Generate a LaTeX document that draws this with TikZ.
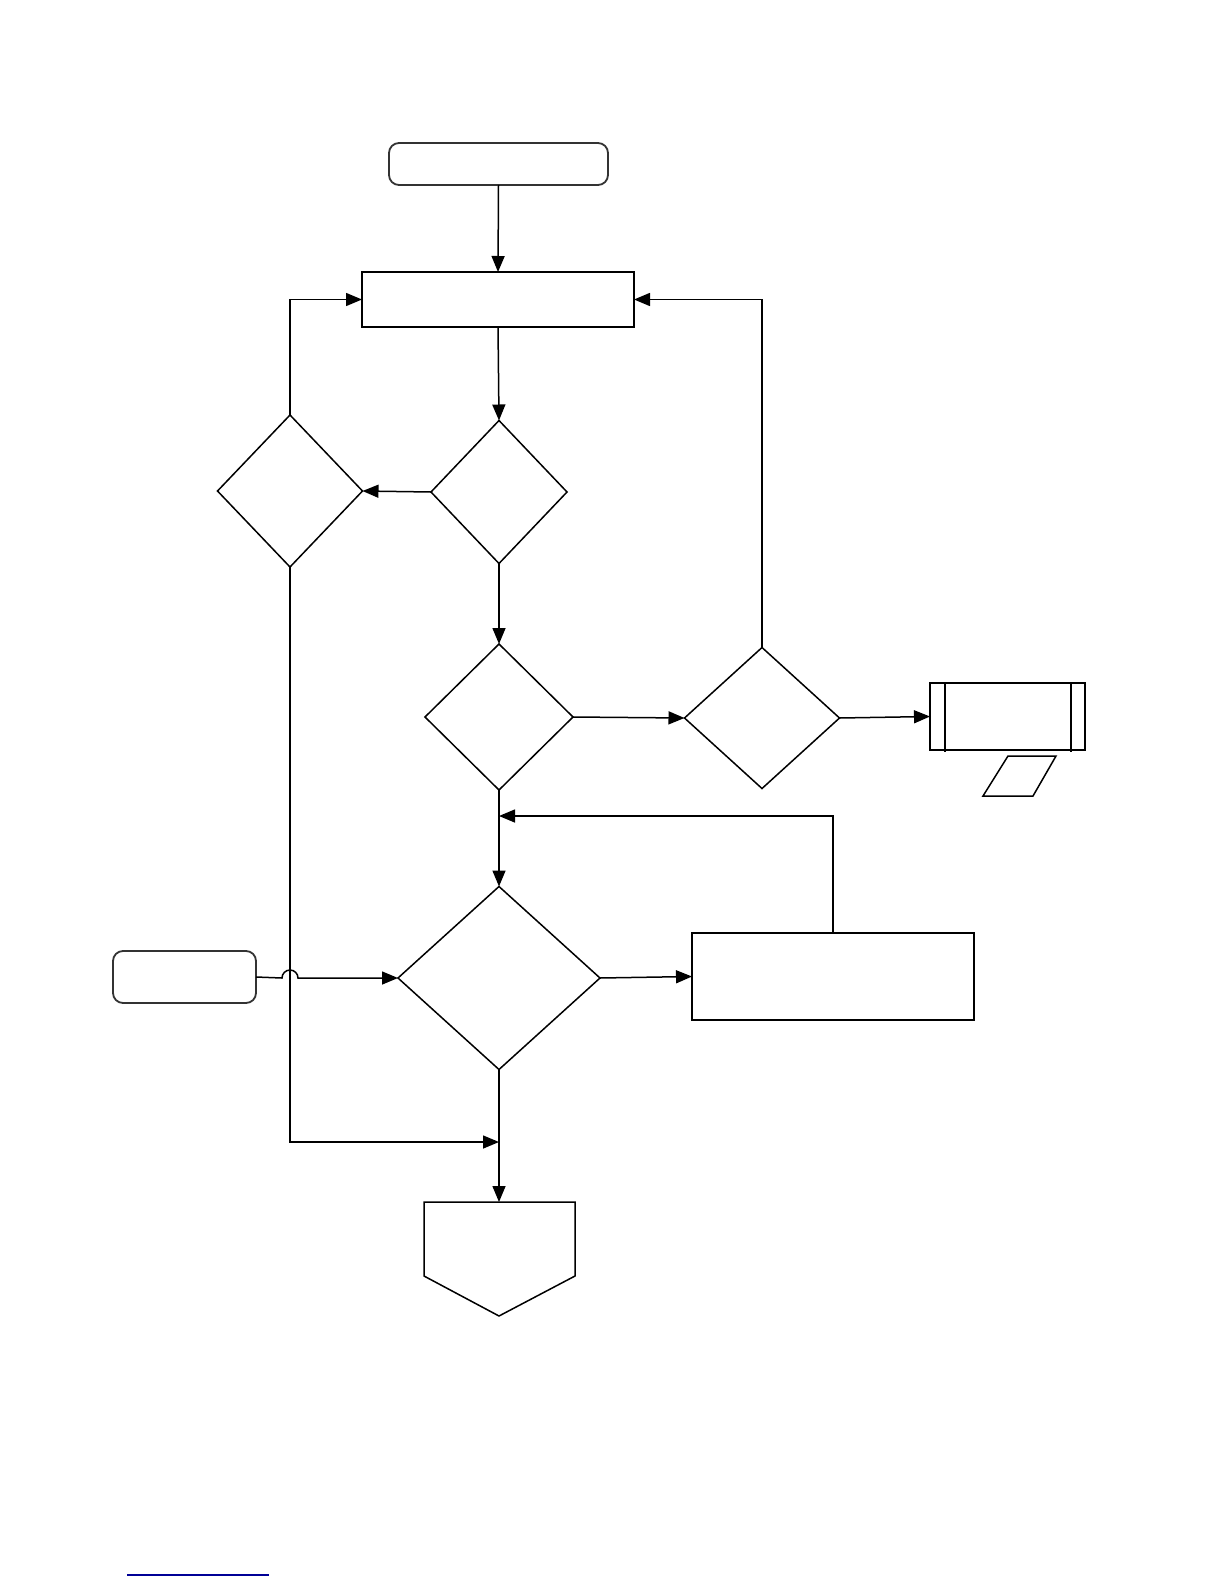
\documentclass[tikz,border=0pt]{standalone}
\usetikzlibrary{shapes.geometric,arrows.meta}
\begin{document}
\begin{tikzpicture}[x=0.5pt,y=-0.5pt,
  line width=0.75pt,
  dec/.style={draw,shape=diamond,inner sep=0pt,outer sep=0pt},
  box/.style={draw,rectangle,inner sep=0pt,outer sep=0pt},
  term/.style={draw=black!80,rectangle,rounded corners=5pt,inner sep=0pt,outer sep=0pt,line width=0.9pt},
  arr/.style={-{Triangle[length=8pt,width=6.5pt]}},
  ln/.style={}]
\useasboundingbox (0,0) rectangle (1224,1584);
% nodes
\node[term,minimum width=109.5pt,minimum height=21pt] (start) at (498.5,164) {};
\node[box,minimum width=136pt,minimum height=27.5pt] (proc) at (498,299.5) {};
\node[dec,minimum width=68pt,minimum height=71.5pt] (d1) at (499,492) {};
\node[dec,minimum width=72.5pt,minimum height=76pt] (d2) at (290,491) {};
\node[dec,minimum width=74pt,minimum height=73pt] (d3) at (499,717) {};
\node[dec,minimum width=77.5pt,minimum height=70.5pt] (d4) at (762,718) {};
\node[dec,minimum width=101pt,minimum height=91.5pt] (d5) at (499,978) {};
\node[box,minimum width=77.5pt,minimum height=33.5pt,line width=0.9pt] (pre) at (1007.5,716.5) {};
\draw (945,683) -- (945,752);
\draw (1071,683) -- (1071,752);
\node[box,minimum width=141pt,minimum height=43.5pt] (side) at (833,976.5) {};
\draw[line width=1.2pt] (692,933) -- (692,1020);
\node[term,minimum width=71.5pt,minimum height=26pt] (lterm) at (184.5,977) {};
% parallelogram
\draw (1008,756) -- (1056,756) -- (1033,796) -- (983,796) -- cycle;
% off-page connector
\coordinate (endtop) at (499,1202);
\draw (424,1202) -- (575,1202) -- (575,1276) -- (499,1316) -- (424,1276) -- cycle;
\coordinate (m1) at (499,816);
\coordinate (m2) at (499,1142);
% connectors
\draw[arr] (start.south) -- (proc.north);
\draw[arr] (proc.south) -- (d1.north);
\draw[arr] (d1.west) -- (d2.east);
\draw[arr] (d2.north) |- (proc.west);
\draw[arr] (d1.south) -- (d3.north);
\draw[arr] (d3.east) -- (d4.west);
\draw[arr] (d4.north) |- (proc.east);
\draw[arr] (d4.east) -- (pre.west);
\draw[arr] (d3.south) -- (d5.north);
\draw[arr] (side.north) |- (m1);
\draw[arr] (lterm.east) -- (282,978) arc[start angle=180,end angle=0,radius=4pt] -- (d5.west);
\draw[arr] (d5.east) -- (side.west);
\draw[arr] (d2.south) |- (m2);
\draw[arr] (d5.south) -- (endtop);
% bottom link underline
\draw[color={rgb,255:red,0;green,0;blue,150},line width=0.6pt] (127,1575) -- (269,1575);
\end{tikzpicture}
\end{document}
